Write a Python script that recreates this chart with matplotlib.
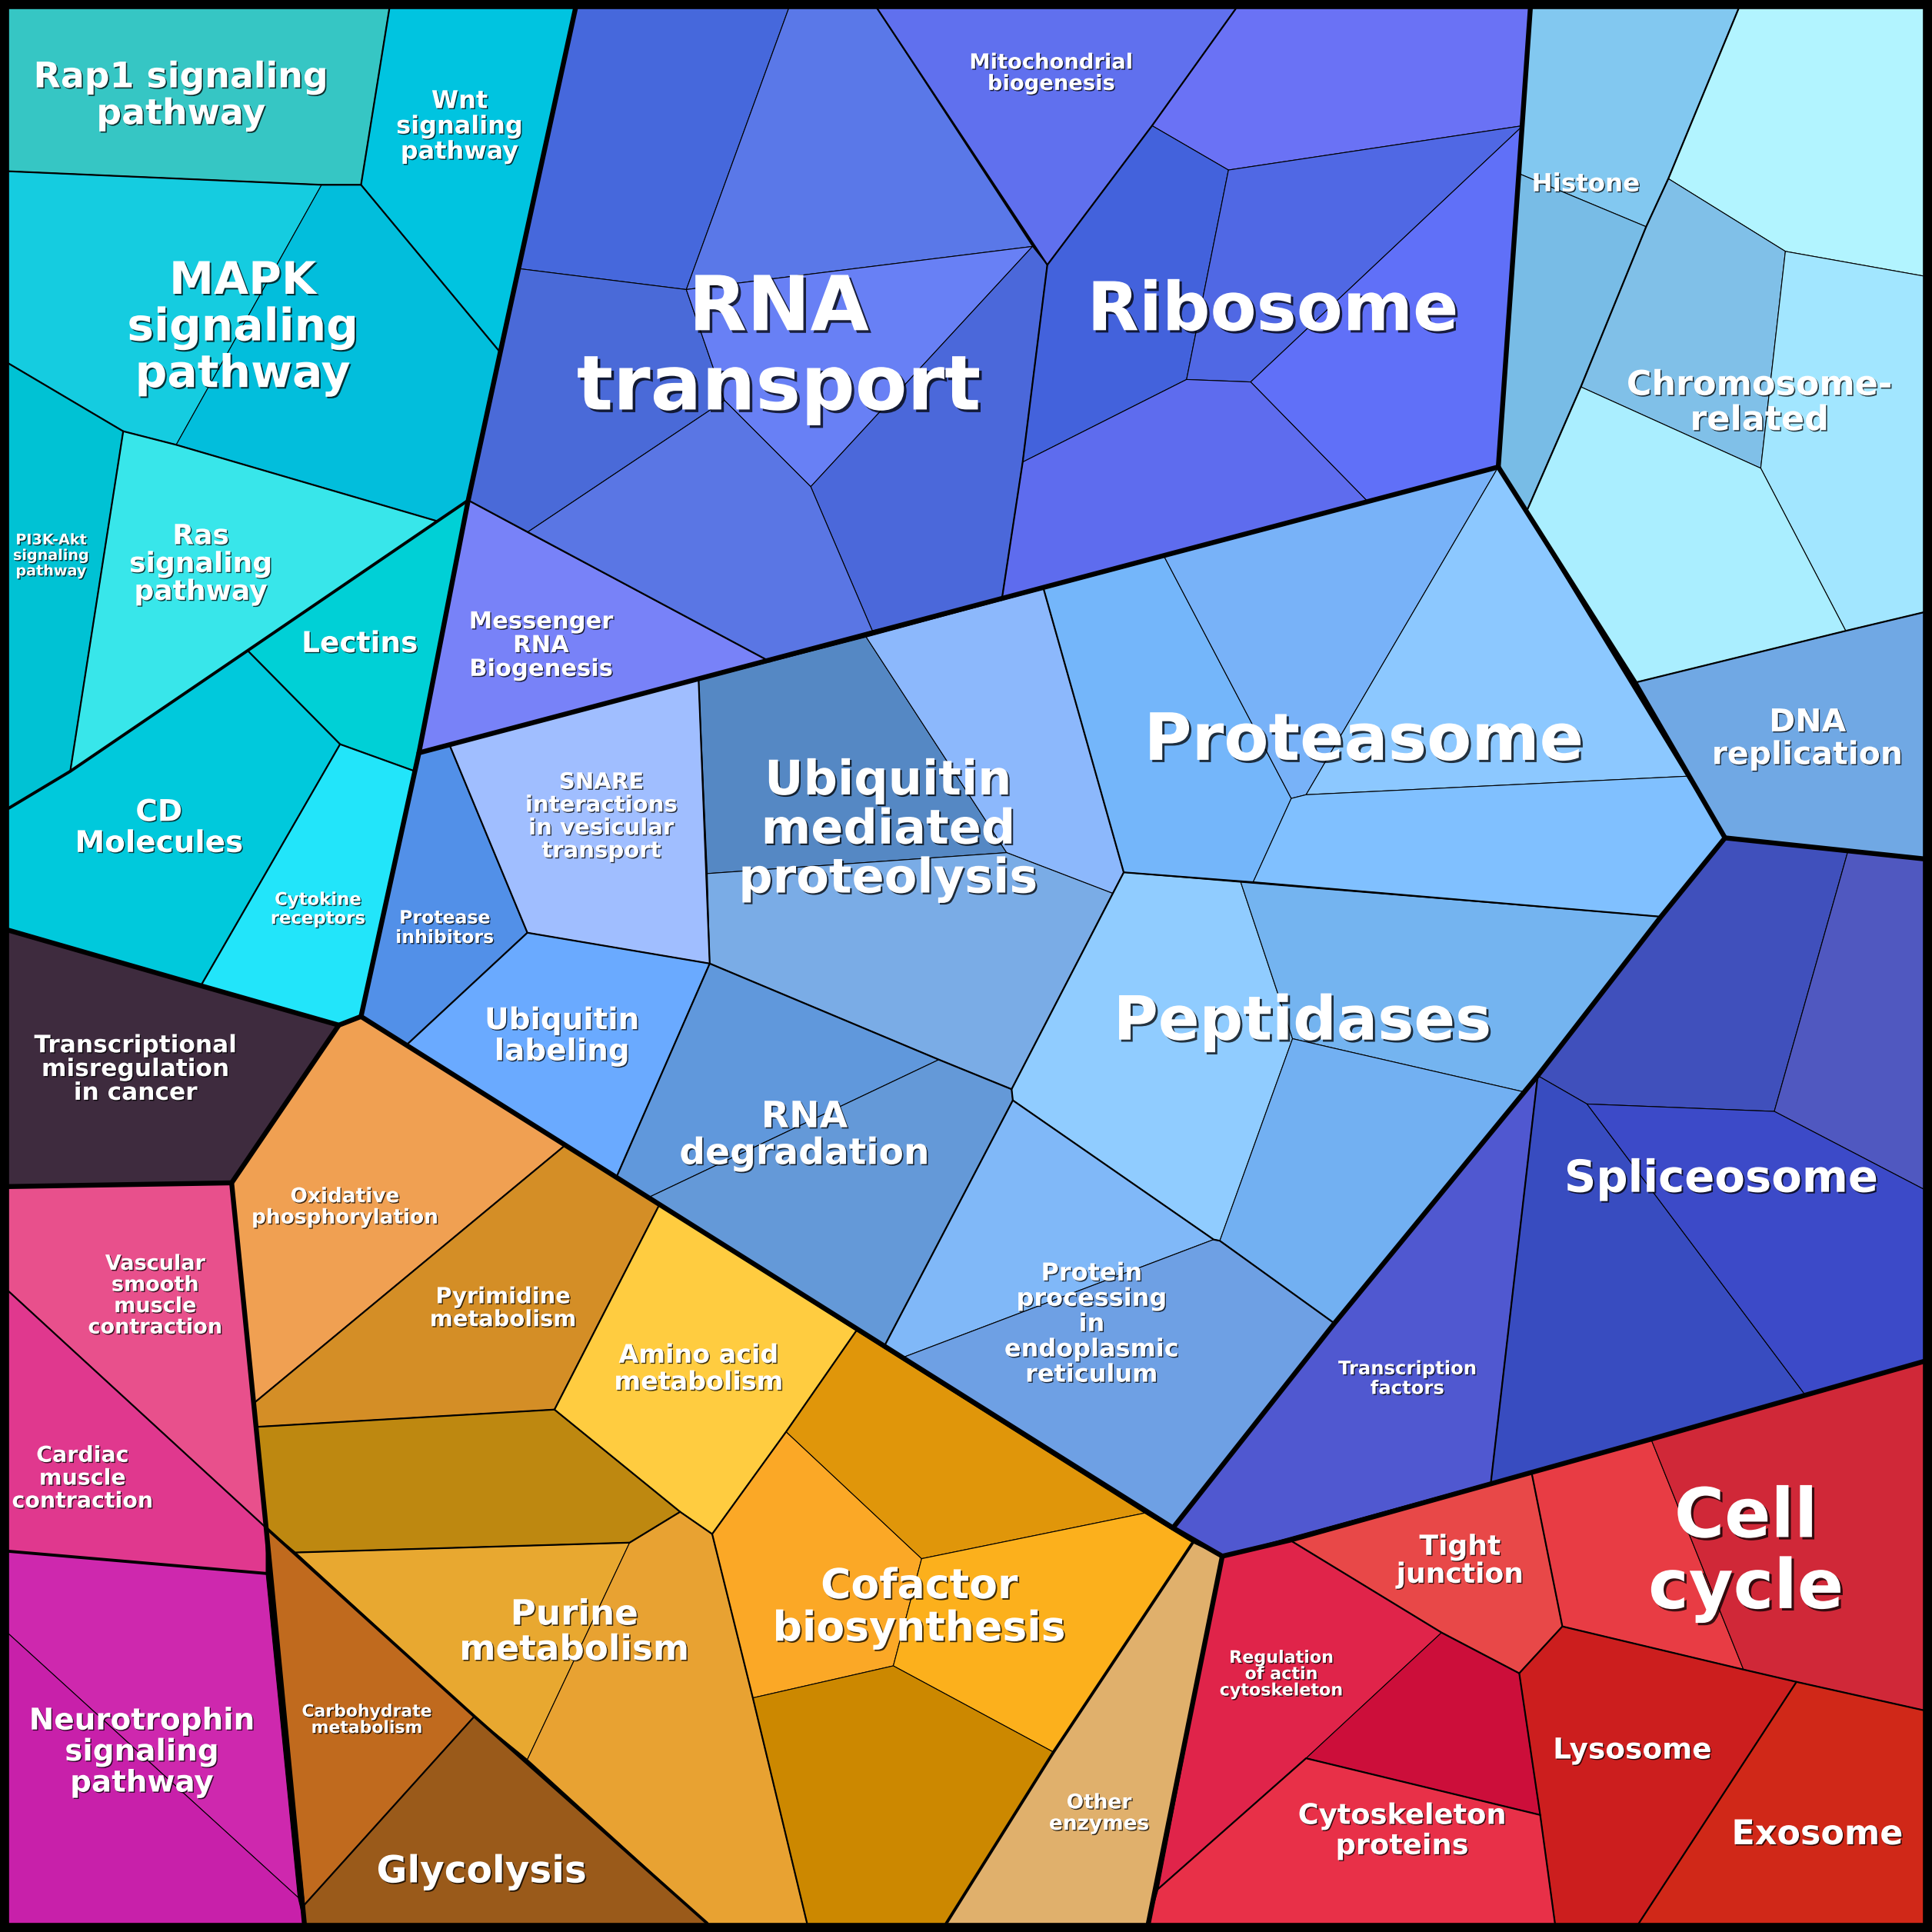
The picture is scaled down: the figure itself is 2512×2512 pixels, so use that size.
import matplotlib
matplotlib.use("Agg")
import matplotlib.pyplot as plt
import matplotlib.patheffects as pe
from matplotlib.patches import Polygon

# Voronoi treemap cells, coordinates in a 1568 x 1568 canvas (y down)
cell_vertices = [
    # signaling (cyan)
    [(7, 7), (316, 7), (293, 150), (261, 150), (7, 139)],                       # Rap1
    [(316, 7), (467, 7), (406, 286), (293, 150)],                               # Wnt
    [(7, 139), (261, 150), (143, 361), (100, 350), (7, 295)],                   # MAPK a
    [(261, 150), (293, 150), (406, 286), (380, 406), (355, 423), (143, 361)],   # MAPK b
    [(7, 295), (100, 350), (57, 626), (7, 656)],                                # PI3K
    [(100, 350), (143, 361), (355, 423), (201, 528), (57, 626)],                # Ras
    [(201, 528), (355, 423), (380, 406), (337, 626), (276, 604)],               # Lectins
    [(7, 656), (57, 626), (201, 528), (276, 604), (163, 800), (7, 755)],        # CD
    [(276, 604), (337, 626), (293, 825), (275, 832), (163, 800)],               # Cytokine
    # misregulation
    [(7, 755), (163, 800), (275, 832), (188, 960), (7, 963)],
    # pink
    [(7, 963), (188, 960), (216, 1240), (7, 1048)],
    [(7, 1048), (216, 1240), (216, 1277), (7, 1259)],
    [(7, 1259), (216, 1277), (242, 1540), (7, 1326)],
    [(7, 1326), (242, 1540), (247, 1561), (7, 1561)],
    # orange
    [(188, 960), (275, 832), (293, 825), (458, 930), (207, 1138)],              # Oxidative
    [(207, 1138), (458, 930), (535, 978), (450, 1144), (209, 1158)],            # Pyrimidine
    [(209, 1158), (450, 1144), (552, 1227), (511, 1252), (240, 1260), (216, 1240)],
    [(535, 978), (695, 1080), (638, 1162), (578, 1245), (552, 1227), (450, 1144)],  # Amino
    [(240, 1260), (511, 1252), (428, 1428), (385, 1393)],                       # Purine a
    [(511, 1252), (552, 1227), (578, 1245), (611, 1378), (655, 1561), (574, 1561), (428, 1428)],
    [(216, 1240), (385, 1393), (247, 1546)],                                    # Carbohydrate
    [(385, 1393), (574, 1561), (247, 1561), (247, 1546)],                       # Glycolysis
    [(578, 1245), (638, 1162), (748, 1265), (725, 1352), (611, 1378)],          # Cofactor a
    [(638, 1162), (695, 1080), (929, 1228), (748, 1265)],
    [(748, 1265), (929, 1228), (968, 1252), (855, 1422), (725, 1352)],
    [(611, 1378), (725, 1352), (855, 1422), (768, 1561), (655, 1561)],
    [(968, 1252), (992, 1263), (932, 1561), (768, 1561), (855, 1422)],          # Other enzymes
    # RNA transport / ribosome
    [(467, 7), (640, 7), (557, 235), (421, 218)],
    [(640, 7), (712, 7), (838, 200), (557, 235)],
    [(421, 218), (557, 235), (588, 325), (428, 432), (380, 406), (406, 286)],
    [(557, 235), (838, 200), (658, 395), (588, 325)],
    [(838, 200), (850, 215), (830, 375), (813, 487), (708, 512), (658, 395)],
    [(428, 432), (588, 325), (658, 395), (708, 512), (625, 537)],
    [(380, 406), (428, 432), (625, 537), (340, 611)],                           # Messenger
    [(712, 7), (1003, 7), (935, 102), (850, 215)],                              # Mito
    [(1003, 7), (1242, 7), (1236, 102), (997, 138), (935, 102)],
    [(850, 215), (935, 102), (997, 138), (963, 308), (830, 375)],
    [(997, 138), (1236, 102), (1015, 310), (963, 308)],
    [(1236, 102), (1216, 379), (1110, 407), (1015, 310)],
    [(830, 375), (963, 308), (1015, 310), (1110, 407), (813, 487)],
    # histone / chromosome
    [(1242, 7), (1411, 7), (1354, 145), (1336, 184), (1233, 141)],
    [(1233, 141), (1336, 184), (1283, 314), (1239, 415), (1216, 379)],
    [(1411, 7), (1561, 7), (1561, 224), (1449, 204), (1354, 145)],
    [(1354, 145), (1449, 204), (1429, 380), (1283, 314), (1336, 184)],
    [(1449, 204), (1561, 224), (1561, 497), (1498, 512), (1429, 380)],
    [(1283, 314), (1429, 380), (1498, 512), (1327, 554), (1239, 415)],
    [(1327, 554), (1498, 512), (1561, 497), (1561, 697), (1400, 680)],         # DNA replication
    # proteolysis (light blue)
    [(340, 611), (365, 605), (428, 757), (330, 848), (293, 825)],               # Protease inh.
    [(365, 605), (567, 552), (576, 782), (428, 757)],                           # SNARE
    [(428, 757), (576, 782), (500, 956), (330, 848)],                           # Ubiq labeling
    [(567, 552), (703, 517), (817, 692), (574, 709)],
    [(703, 517), (847, 478), (912, 708), (903, 725), (817, 692)],
    [(574, 709), (817, 692), (903, 725), (821, 884), (762, 860), (576, 782)],
    [(576, 782), (762, 860), (526, 972), (500, 956)],                           # RNA degradation
    [(762, 860), (821, 884), (822, 893), (718, 1092), (526, 972)],
    [(847, 478), (945, 452), (1048, 648), (1017, 716), (912, 708)],             # Proteasome
    [(945, 452), (1216, 379), (1060, 645), (1048, 648)],
    [(1216, 379), (1369, 630), (1060, 645)],
    [(1048, 648), (1060, 645), (1369, 630), (1400, 680), (1348, 744), (1017, 716)],
    [(912, 708), (1007, 716), (1039, 812), (1049, 843), (990, 1007), (985, 1006), (822, 893), (821, 884)],
    [(1007, 716), (1348, 744), (1248, 873), (1236, 886), (1049, 843), (1039, 812)],
    [(1049, 843), (1236, 886), (1083, 1074), (990, 1007)],
    [(822, 893), (985, 1006), (732, 1102), (718, 1092)],                        # Protein proc.
    [(718, 1092), (732, 1102), (985, 1006), (990, 1007), (1083, 1074), (952, 1240)],
    # spliceosome
    [(1248, 873), (1210, 1203), (992, 1263), (952, 1240), (1083, 1074)],        # TF
    [(1400, 680), (1500, 690), (1440, 902), (1288, 896), (1248, 873)],
    [(1500, 690), (1561, 697), (1561, 965), (1440, 902)],
    [(1248, 873), (1288, 896), (1465, 1132), (1340, 1168), (1210, 1203)],
    [(1288, 896), (1440, 902), (1561, 965), (1561, 1105), (1465, 1132)],
    # red
    [(992, 1263), (1047, 1250), (1170, 1325), (1060, 1427), (940, 1533)],
    [(1170, 1325), (1233, 1358), (1250, 1473), (1060, 1427)],
    [(1047, 1250), (1243, 1195), (1268, 1320), (1233, 1358), (1170, 1325)],     # Tight junction
    [(1243, 1195), (1340, 1168), (1415, 1355), (1268, 1320)],                   # Cell cycle
    [(1340, 1168), (1561, 1105), (1561, 1388), (1458, 1365), (1415, 1355)],
    [(1268, 1320), (1415, 1355), (1458, 1365), (1330, 1561), (1262, 1561), (1250, 1473), (1233, 1358)],
    [(1458, 1365), (1561, 1388), (1561, 1561), (1330, 1561)],                   # Exosome
    [(1060, 1427), (1250, 1473), (1262, 1561), (932, 1561), (940, 1533)],       # Cytoskeleton
]

cell_colors = [
    "#36C6C4", "#00C4E0", "#15CCE0", "#02BEDC", "#00C2D4", "#38E6EA", "#00D0D6", "#00C9DC", "#22E5FA",
    "#3E2B3E",
    "#E8508C", "#E0388E", "#CE28AE", "#C820AA",
    "#F0A052", "#D48E26", "#BE8810", "#FFCC40", "#E8A830", "#E8A232", "#C06A1E", "#9A5A1A",
    "#FBA826", "#E0960A", "#FCB01C", "#CC8800", "#E0B06C",
    "#4668DC", "#5A78E8", "#4A6AD8", "#6880F5", "#4B68DA", "#5A76E4", "#7882F8", "#6070EE",
    "#6A72F5", "#4362DC", "#5068E4", "#6070F8", "#5E6CEE",
    "#82C8F0", "#78BCE6", "#B2F4FF", "#80C0E8", "#A2E6FF", "#AAEEFF", "#70A8E4",
    "#5290E8", "#A0BEFF", "#6AAAFF", "#5588C4", "#8CB8FC", "#7AACE6", "#6098DC", "#6499D8",
    "#74B6FA", "#78B2F8", "#8CC8FF", "#80C0FF", "#90CCFF", "#74B4F0", "#72B0F2", "#80B8F8", "#6EA0E4",
    "#5058D0", "#4050BC", "#5058C0", "#384CC0", "#3C4AC8",
    "#E0244A", "#CC0E3A", "#E84848", "#E83C44", "#D02838", "#CC1E1E", "#D02818", "#E83048",
]

# borders between categories / subgroups / groups
category_lines = [
    [(7, 139), (261, 150), (293, 150), (316, 7)], [(293, 150), (406, 286)],
    [(7, 295), (100, 350), (143, 361), (355, 423)], [(100, 350), (57, 626)],
    [(201, 528), (276, 604), (337, 626)], [(276, 604), (163, 800)],
    [(7, 1048), (216, 1240)],
    [(207, 1138), (458, 930)], [(209, 1158), (450, 1144), (535, 978)],
    [(450, 1144), (552, 1227), (511, 1252), (240, 1260)], [(552, 1227), (578, 1245)],
    [(695, 1080), (638, 1162), (578, 1245), (611, 1378), (655, 1561)], [(385, 1393), (247, 1546)],
    [(365, 605), (428, 757), (330, 848)], [(567, 552), (576, 782), (500, 956)], [(428, 757), (576, 782)],
    [(576, 782), (762, 860), (821, 884), (912, 708), (847, 478)],
    [(821, 884), (822, 893), (718, 1092)], [(822, 893), (985, 1006), (990, 1007), (1083, 1074)],
    [(912, 708), (1017, 716), (1348, 744)],
    [(380, 406), (625, 537)], [(712, 7), (850, 215), (830, 375), (813, 487)], [(1003, 7), (935, 102), (850, 215)],
    [(1411, 7), (1354, 145), (1336, 184), (1283, 314), (1239, 415)], [(1327, 554), (1498, 512), (1561, 497)],
    [(1248, 873), (1210, 1203)],
    [(1047, 1250), (1170, 1325), (1233, 1358), (1268, 1320), (1243, 1195)],
    [(1233, 1358), (1250, 1473), (1262, 1561)], [(940, 1533), (1060, 1427), (1250, 1473)],
    [(1268, 1320), (1415, 1355), (1458, 1365), (1561, 1388)], [(1458, 1365), (1330, 1561)],
]
subgroup_lines = [
    [(7, 656), (57, 626), (201, 528), (355, 423), (380, 406)],
    [(7, 1259), (216, 1277)],
    [(216, 1240), (385, 1393), (574, 1561)],
    [(968, 1252), (855, 1422), (768, 1561)],
]
group_lines = [
    [(467, 7), (406, 286), (380, 406), (340, 611), (293, 825)],
    [(7, 755), (163, 800), (275, 832), (293, 825)],
    [(275, 832), (188, 960), (216, 1240), (247, 1561)],
    [(7, 963), (188, 960)],
    [(293, 825), (952, 1240), (992, 1263)],
    [(992, 1263), (932, 1561)],
    [(992, 1263), (1047, 1250), (1243, 1195), (1340, 1168), (1561, 1105)],
    [(952, 1240), (1083, 1074), (1248, 873), (1348, 744), (1400, 680)],
    [(1400, 680), (1561, 697)],
    [(1216, 379), (1327, 554), (1400, 680)],
    [(1242, 7), (1216, 379)],
    [(340, 611), (1216, 379)],
]

label_texts = [
    "Rap1 signaling\npathway", "Wnt\nsignaling\npathway", "MAPK\nsignaling\npathway",
    "PI3K-Akt\nsignaling\npathway", "Ras\nsignaling\npathway", "Lectins", "CD\nMolecules",
    "Cytokine\nreceptors", "Transcriptional\nmisregulation\nin cancer",
    "Vascular\nsmooth\nmuscle\ncontraction", "Cardiac\nmuscle\ncontraction",
    "Neurotrophin\nsignaling\npathway", "Oxidative\nphosphorylation", "Pyrimidine\nmetabolism",
    "Amino acid\nmetabolism", "Purine\nmetabolism", "Carbohydrate\nmetabolism", "Glycolysis",
    "Cofactor\nbiosynthesis", "Other\nenzymes", "Regulation\nof actin\ncytoskeleton",
    "Tight\njunction", "Cell\ncycle", "Cytoskeleton\nproteins", "Lysosome", "Exosome",
    "Transcription\nfactors", "Spliceosome", "Peptidases", "Proteasome", "DNA\nreplication",
    "Chromosome-\nrelated", "Histone", "Ribosome", "Mitochondrial\nbiogenesis", "RNA\ntransport",
    "Messenger\nRNA\nBiogenesis", "SNARE\ninteractions\nin vesicular\ntransport",
    "Ubiquitin\nmediated\nproteolysis", "Protease\ninhibitors", "Ubiquitin\nlabeling",
    "RNA\ndegradation", "Protein\nprocessing\nin\nendoplasmic\nreticulum",
]
label_x = [147, 373, 197, 41.5, 163, 292, 129, 258, 110, 126, 67, 115, 280, 408, 567, 466, 298, 391,
           746, 892, 1040, 1185, 1417, 1138, 1325, 1475, 1142, 1397, 1057, 1107, 1467, 1428, 1287,
           1033, 853, 632, 439, 488, 721, 361, 456, 653, 886]
label_y = [78, 103, 266, 451, 458, 523, 672, 738, 868, 1052, 1200, 1422, 980, 1062, 1111, 1325, 1396,
           1519, 1305, 1472, 1359, 1267, 1261, 1486, 1421, 1489, 1119, 957, 830, 602, 600, 327, 150,
           253, 60, 283, 524, 663, 674, 753, 841, 922, 1075]
label_sizes = [33, 23, 42, 13.8, 26, 27, 28, 16.4, 22.5, 19.5, 20.5, 28, 19, 20.8, 24, 32.6, 15.8, 35,
               38.6, 19, 16, 26, 64, 26.5, 27, 32, 17.5, 41.5, 57, 61, 29.5, 32, 23.4, 63, 19.7, 71,
               22, 21, 44.7, 17, 28, 34, 23]

fig = plt.figure(figsize=(25.12, 25.12), dpi=100, facecolor="black")
ax = fig.add_axes([0, 0, 1, 1])
ax.set_facecolor("black")
ax.set_xlim(0, 1568)
ax.set_ylim(1568, 0)
ax.axis("off")

for verts, col in zip(cell_vertices, cell_colors):
    ax.add_patch(Polygon(verts, closed=True, facecolor=col, edgecolor="black",
                         linewidth=0.8, joinstyle="round"))

for lines, lw in ((category_lines, 1.6), (subgroup_lines, 2.8), (group_lines, 4.6)):
    for line in lines:
        xs, ys = zip(*line)
        ax.plot(xs, ys, color="black", linewidth=lw, solid_capstyle="round",
                solid_joinstyle="round")

for txt, x, y, s in zip(label_texts, label_x, label_y, label_sizes):
    off = max(1.0, s * 0.035)
    ax.text(x, y, txt, fontsize=s, fontweight="bold", family="DejaVu Sans", color="white",
            ha="center", va="center", multialignment="center", linespacing=1.08,
            path_effects=[pe.withSimplePatchShadow(offset=(off, -off), shadow_rgbFace="black",
                                                   alpha=0.75)])

fig.savefig("out.png", dpi=100, facecolor="black")
